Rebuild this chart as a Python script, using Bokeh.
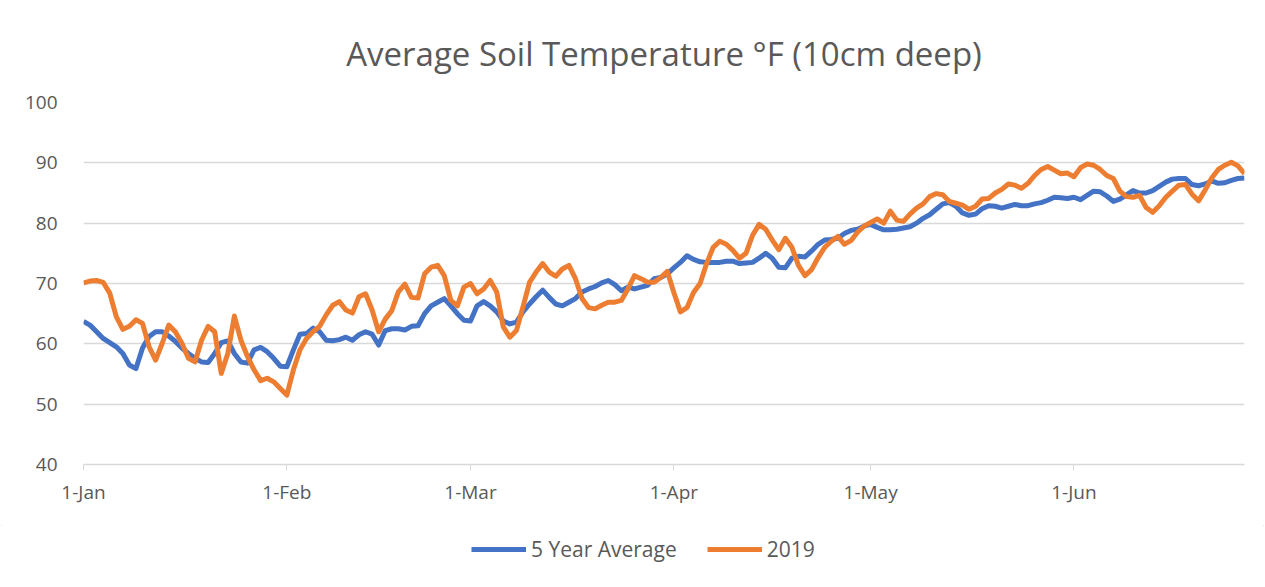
from bokeh.plotting import figure
from bokeh.layouts import column
from bokeh.models import Range1d, FixedTicker, Legend, LegendItem, InlineStyleSheet
from bokeh.embed import file_html
from bokeh.resources import INLINE

# ---- data ----
tick_days = [0, 31, 59, 90, 120, 151]
tick_labels = ["1-Jan", "1-Feb", "1-Mar", "1-Apr", "1-May", "1-Jun"]
series_names = ["5 Year Average", "2019"]

avg5 = [
    63.7, 63.1, 62.0, 60.9, 60.2, 59.5, 58.4, 56.5, 55.9, 59.3,
    61.2, 62.0, 62.0, 61.3, 60.4, 59.3, 58.4, 57.6, 57.0, 56.9,
    58.4, 60.2, 60.5, 58.4, 57.0, 56.8, 59.0, 59.4, 58.7, 57.6,
    56.3, 56.2, 59.0, 61.6, 61.7, 62.6, 62.0, 60.6, 60.5, 60.7,
    61.1, 60.6, 61.5, 62.0, 61.6, 59.8, 62.2, 62.5, 62.5, 62.3,
    62.9, 63.0, 65.0, 66.3, 66.9, 67.5, 66.3, 65.0, 63.9, 63.8,
    66.3, 67.0, 66.3, 65.3, 63.8, 63.3, 63.6, 65.3, 66.6, 67.8,
    68.9, 67.7, 66.6, 66.3, 66.9, 67.5, 68.6, 69.1, 69.5, 70.1,
    70.5, 69.8, 68.8, 69.4, 69.1, 69.4, 69.7, 70.8, 71.0, 71.6,
    72.6, 73.5, 74.6, 74.0, 73.6, 73.5, 73.5, 73.5, 73.7, 73.7,
    73.3, 73.4, 73.5, 74.2, 75.0, 74.2, 72.7, 72.6, 74.2, 74.5,
    74.4, 75.4, 76.5, 77.2, 77.3, 77.5, 78.3, 78.8, 79.0, 79.5,
    79.8, 79.3, 78.9, 78.9, 79.0, 79.2, 79.4, 80.0, 80.8, 81.4,
    82.3, 83.2, 83.4, 82.8, 81.7, 81.3, 81.5, 82.4, 82.9, 82.8,
    82.5, 82.8, 83.1, 82.9, 82.9, 83.2, 83.4, 83.8, 84.3, 84.2,
    84.1, 84.3, 83.9, 84.6, 85.3, 85.2, 84.5, 83.6, 84.0, 84.7,
    85.4, 85.0, 85.0, 85.4, 86.1, 86.8, 87.3, 87.4, 87.4, 86.4,
    86.2, 86.5, 87.0, 86.6, 86.7, 87.1, 87.4, 87.5,
]

y2019 = [
    70.1, 70.4, 70.5, 70.2, 68.4, 64.5, 62.4, 62.9, 64.0, 63.4,
    59.5, 57.3, 60.1, 63.1, 62.0, 60.1, 57.6, 57.0, 60.6, 62.9,
    62.0, 55.1, 58.4, 64.6, 60.6, 57.9, 55.7, 53.9, 54.3, 53.7,
    52.6, 51.5, 55.7, 59.0, 60.9, 62.0, 62.9, 64.8, 66.4, 67.0,
    65.6, 65.1, 67.8, 68.3, 65.6, 62.0, 64.1, 65.5, 68.6, 69.9,
    67.7, 67.6, 71.6, 72.7, 73.0, 71.3, 67.2, 66.3, 69.4, 70.0,
    68.3, 69.1, 70.5, 68.6, 62.8, 61.1, 62.2, 66.1, 70.2, 71.9,
    73.3, 71.9, 71.2, 72.4, 73.0, 70.8, 67.5, 66.0, 65.8, 66.4,
    66.9, 66.9, 67.2, 69.1, 71.3, 70.8, 70.2, 70.2, 71.0, 72.0,
    68.5, 65.3, 66.0, 68.5, 70.0, 73.3, 76.0, 77.0, 76.5, 75.5,
    74.2, 75.0, 78.0, 79.8, 79.0, 77.2, 75.6, 77.5, 76.0, 73.0,
    71.3, 72.3, 74.3, 76.0, 77.0, 77.8, 76.5, 77.1, 78.5, 79.5,
    80.1, 80.7, 80.0, 82.0, 80.5, 80.3, 81.5, 82.5, 83.2, 84.4,
    84.9, 84.7, 83.6, 83.3, 83.0, 82.3, 82.8, 84.0, 84.1, 85.0,
    85.6, 86.5, 86.3, 85.8, 86.6, 87.9, 88.9, 89.4, 88.8, 88.2,
    88.3, 87.7, 89.2, 89.8, 89.6, 88.9, 87.9, 87.4, 85.3, 84.4,
    84.3, 84.6, 82.6, 81.8, 82.9, 84.3, 85.3, 86.3, 86.4, 84.8,
    83.7, 85.5, 87.5, 88.9, 89.6, 90.1, 89.5, 88.2,
]

days = list(range(len(avg5)))

BLUE = "#4472C4"
ORANGE = "#ED7D31"
GRID = "#d9d9d9"
TEXT = "#595959"
FONT = "Open Sans"

p = figure(
    width=1265, height=525,
    output_backend="svg", toolbar_location=None,
    x_range=Range1d(0, days[-1]), y_range=Range1d(40, 100),
    min_border_left=83, min_border_right=21,
    min_border_top=102, min_border_bottom=61,
    title="Average Soil Temperature °F (10cm deep)",
)
p.outline_line_color = None
p.background_fill_color = "white"
p.border_fill_color = "white"

p.title.align = "center"
p.title.offset = -24
p.title.text_font = FONT
p.title.text_font_size = "33px"
p.title.text_font_style = "normal"
p.title.text_color = TEXT
p.title.standoff = 54

r1 = p.line(days, avg5, line_color=BLUE, line_width=5, line_join="round")
r2 = p.line(days, y2019, line_color=ORANGE, line_width=5, line_join="round")

p.xgrid.grid_line_color = None
p.ygrid.grid_line_color = GRID
p.ygrid.grid_line_width = 1.5

p.yaxis.ticker = FixedTicker(ticks=[40, 50, 60, 70, 80, 90, 100])
p.yaxis.axis_line_color = None
p.yaxis.major_tick_line_color = None
p.yaxis.minor_tick_line_color = None
p.yaxis.major_label_text_font = FONT
p.yaxis.major_label_text_font_size = "19px"
p.yaxis.major_label_text_color = TEXT
p.yaxis.major_label_standoff = 20

p.xaxis.ticker = FixedTicker(ticks=tick_days)
p.xaxis.major_label_overrides = {d: l for d, l in zip(tick_days, tick_labels)}
p.xaxis.axis_line_color = GRID
p.xaxis.axis_line_width = 1.5
p.xaxis.major_tick_line_color = GRID
p.xaxis.major_tick_in = 0
p.xaxis.major_tick_out = 6
p.xaxis.minor_tick_line_color = None
p.xaxis.major_label_text_font = FONT
p.xaxis.major_label_text_font_size = "19px"
p.xaxis.major_label_text_color = TEXT
p.xaxis.major_label_standoff = 8

# legend strip below the chart (its renderers hold only off-screen points)
q = figure(
    width=1265, height=62,
    output_backend="svg", toolbar_location=None,
    x_axis_type=None, y_axis_type=None,
    x_range=Range1d(0, 1), y_range=Range1d(0, 1),
    min_border=0,
)
q.outline_line_color = None
q.xgrid.grid_line_color = None
q.ygrid.grid_line_color = None
l1 = q.line([5, 6], [5, 6], line_color=BLUE, line_width=5)
l2 = q.line([5, 6], [5, 6], line_color=ORANGE, line_width=5)
legend = Legend(
    items=[LegendItem(label=series_names[0], renderers=[l1]),
           LegendItem(label=series_names[1], renderers=[l2])],
    orientation="horizontal", location=(388, 24),
    border_line_color=None, background_fill_alpha=0,
    label_text_font=FONT, label_text_font_size="21px", label_text_color=TEXT,
    glyph_width=55, glyph_height=22, spacing=30, margin=0, padding=0,
)
q.add_layout(legend, "center")

layout = column(p, q, spacing=0)
layout.stylesheets = [InlineStyleSheet(css=":host { outline: 1px solid #d9d9d9; outline-offset: -2px; }")]

open("out.html", "w").write(file_html(layout, INLINE))
